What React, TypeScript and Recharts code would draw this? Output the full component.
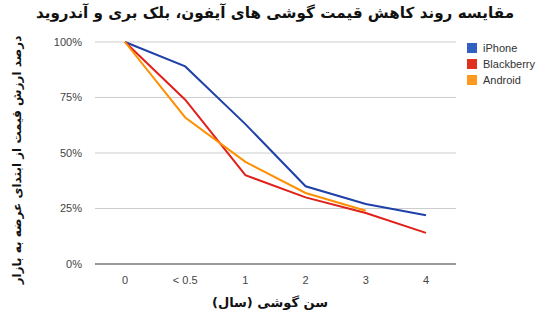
import { LineChart, Line, XAxis, YAxis, CartesianGrid } from "recharts";

const ages = ["0", "< 0.5", "1", "2", "3", "4"];
const iphone = [100, 89, 63, 35, 27, 22];
const blackberry = [100, 74, 40, 30, 23, 14];
const android = [100, 66, 46, 32, 24, null];
const yTicks = [0, 25, 50, 75, 100];

const data = ages.map((age, i) => ({
  age,
  iPhone: iphone[i],
  Blackberry: blackberry[i],
  Android: android[i],
}));

const series = [
  { key: "iPhone", color: "#1f40a8", swatch: "#3060c0" },
  { key: "Blackberry", color: "#e0201a", swatch: "#e03020" },
  { key: "Android", color: "#ff8f00", swatch: "#ff9a20" },
];

const arabicFont = "'DejaVu Sans', sans-serif";
const tickFont = "'Liberation Sans', Arial, sans-serif";

const App = () => {
  return (
    <div style={{ position: "absolute", left: 0, top: 0, width: 550, height: 323, background: "#fff" }}>
      <div
        style={{
          position: "absolute",
          left: 0,
          top: 4,
          width: 550,
          textAlign: "center",
          fontFamily: arabicFont,
          fontWeight: "bold",
          fontSize: 15.2,
          direction: "rtl",
          color: "#111",
        }}
      >
        مقایسه روند کاهش قیمت گوشی های آیفون، بلک بری و آندروید
      </div>
      <div
        style={{
          position: "absolute",
          left: 17,
          top: 160,
          transform: "translate(-50%, -50%) rotate(-90deg)",
          whiteSpace: "nowrap",
          fontFamily: arabicFont,
          fontWeight: "bold",
          fontSize: 12,
          direction: "rtl",
          color: "#111",
        }}
      >
        درصد ارزش قیمت از ابتدای عرضه به بازار
      </div>
      <div
        style={{
          position: "absolute",
          left: 0,
          top: 295,
          width: 540,
          textAlign: "center",
          fontFamily: arabicFont,
          fontWeight: "bold",
          fontSize: 13,
          direction: "rtl",
          color: "#111",
        }}
      >
        سن گوشی (سال)
      </div>
      <div
        style={{ position: "absolute", left: 467, top: 40, fontFamily: tickFont, fontSize: 11, color: "#333" }}
      >
        {series.map((s) => (
          <div key={s.key} style={{ display: "flex", alignItems: "center", height: 16 }}>
            <span style={{ width: 10, height: 10, background: s.swatch, marginRight: 6, display: "inline-block" }} />
            {s.key}
          </div>
        ))}
      </div>
      <LineChart
        width={550}
        height={323}
        data={data}
        margin={{ top: 42, right: 94, left: 0, bottom: 29 }}
      >
        <CartesianGrid vertical={false} stroke="#cccccc" />
        <XAxis
          dataKey="age"
          height={30}
          padding={{ left: 30, right: 30 }}
          axisLine={{ stroke: "#999", strokeWidth: 2 }}
          tickLine={false}
          tickMargin={6}
          tick={{ fontSize: 11, fill: "#444", fontFamily: tickFont }}
        />
        <YAxis
          width={95}
          domain={[0, 100]}
          ticks={yTicks}
          axisLine={false}
          tickLine={false}
          tickMargin={7}
          tickFormatter={(v) => `${v}%`}
          tick={{ fontSize: 11, fill: "#444", fontFamily: tickFont }}
        />
        {series.map((s) => (
          <Line
            key={s.key}
            dataKey={s.key}
            stroke={s.color}
            strokeWidth={2}
            dot={false}
            activeDot={false}
            isAnimationActive={false}
          />
        ))}
      </LineChart>
    </div>
  );
};

export default App;
